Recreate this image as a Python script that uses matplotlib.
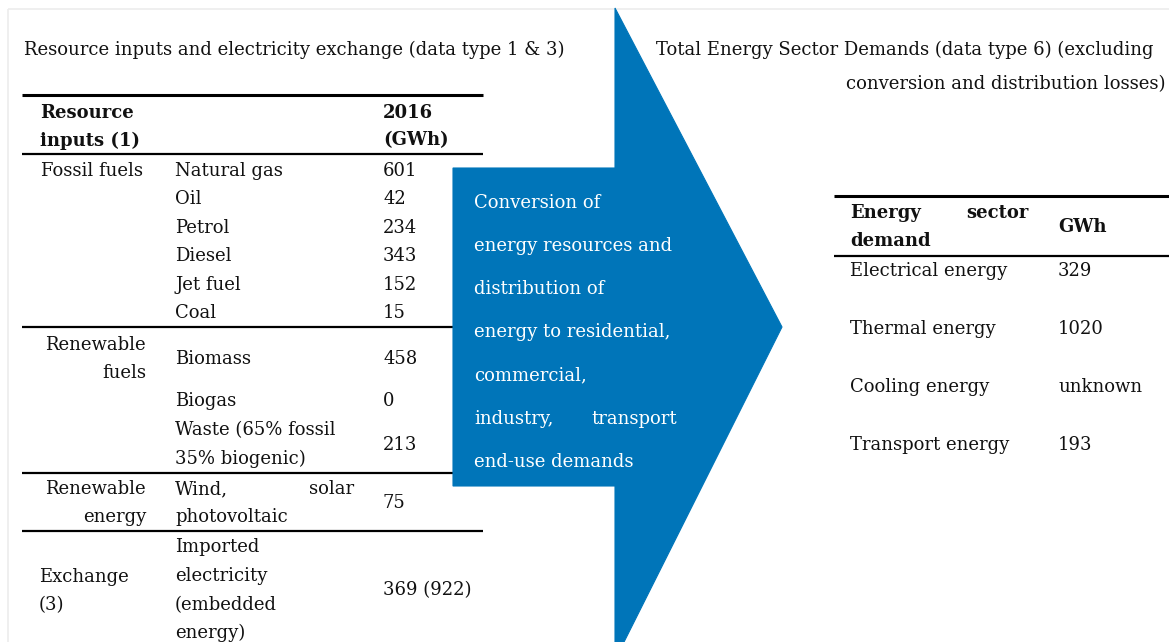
import matplotlib
matplotlib.use("Agg")
import matplotlib.pyplot as plt
from matplotlib.patches import Polygon, Rectangle

# ── data ─────────────────────────────────────────────────────────────────────
LEFT_TITLE = "Resource inputs and electricity exchange (data type 1 & 3)"
RIGHT_TITLE = ["Total Energy Sector Demands (data type 6) (excluding",
               "conversion and distribution losses)"]

fossil_items = [("Natural gas", "601"), ("Oil", "42"), ("Petrol", "234"),
                ("Diesel", "343"), ("Jet fuel", "152"), ("Coal", "15")]
renew_fuel_items = [(["Biomass"], "458"), (["Biogas"], "0"),
                    (["Waste (65% fossil", "35% biogenic)"], "213")]
renew_energy_item = (["Wind,", "solar", "photovoltaic"], "75")
exchange_item = (["Imported", "electricity", "(embedded", "energy)"], "369 (922)")

ARROW_TEXT = ["Conversion of", "energy resources and", "distribution of",
              "energy to residential,", "commercial,", ("industry,", "transport"),
              "end-use demands"]

demand_names = ["Electrical energy", "Thermal energy", "Cooling energy", "Transport energy"]
demand_gwh = ["329", "1020", "unknown", "193"]

# ── style ────────────────────────────────────────────────────────────────────
FONT = "DejaVu Serif"
FS = 13.0
BLUE = "#0075b9"
plt.rcParams["font.family"] = [FONT]

fig = plt.figure(figsize=(11.69, 6.42), dpi=100, facecolor="white")
ax = fig.add_axes([0, 0, 1, 1])
ax.set_xlim(0, 1169)
ax.set_ylim(642, 0)
ax.axis("off")


def txt(x, y, s, ha="left", weight="normal", color="#111111", **kw):
    # y = visual centre of the lowercase body; placed by baseline
    ax.text(x, y + 5.5, s, ha=ha, va="baseline", fontsize=FS, fontweight=weight,
            color=color, **kw)


def rule(y, x0, x1, lw):
    ax.plot([x0, x1], [y, y], color="black", lw=lw, solid_capstyle="butt", zorder=2)


# faint frame
ax.add_patch(Rectangle((8, 9), 1200, 700, fill=False, edgecolor="#ececec", lw=1.2, zorder=0))

# ── left table ───────────────────────────────────────────────────────────────
txt(24, 49.5, LEFT_TITLE)
rule(95, 22, 483, 2.2)
txt(40, 112, "Resource", weight="bold")
txt(40, 140, "inputs (1)", weight="bold")
txt(383, 112, "2016", weight="bold")
txt(383, 140, "(GWh)", weight="bold")
rule(154, 22, 483, 1.6)

C1, C2, C3, RALIGN = 41, 175, 383, 146
LH = 28.6

y = 170
txt(C1, y, "Fossil fuels")
for name, val in fossil_items:
    txt(C2, y, name)
    txt(C3, y, val)
    y += LH
rule(327, 22, 483, 1.6)

txt(RALIGN, 344, "Renewable", ha="right")
txt(RALIGN, 373, "fuels", ha="right")
row_y = [358, 401, 444]
for (lines, val), yc in zip(renew_fuel_items, row_y):
    n = len(lines)
    for k, line in enumerate(lines):
        txt(C2, yc + (k - (n - 1) / 2) * LH, line)
    txt(C3, yc, val)
rule(473, 22, 483, 1.6)

txt(RALIGN, 489, "Renewable", ha="right")
txt(RALIGN, 517, "energy", ha="right")
w1, w2, w3 = renew_energy_item[0]
txt(C2, 489, w1)
txt(354, 489, w2, ha="right")
txt(C2, 517, w3)
txt(C3, 503, renew_energy_item[1])
rule(531, 22, 483, 1.6)

txt(39, 576, "Exchange")
txt(39, 605, "(3)")
for k, line in enumerate(exchange_item[0]):
    txt(C2, 547 + k * LH, line)
txt(C3, 590, exchange_item[1])

# ── arrow ────────────────────────────────────────────────────────────────────
arrow = Polygon([(453, 168), (615, 168), (615, 8), (782, 327), (615, 660),
                 (615, 486), (453, 486)], closed=True, facecolor=BLUE,
                edgecolor=BLUE, lw=0.8, zorder=3)
ax.add_patch(arrow)
ay = 202
for line in ARROW_TEXT:
    if isinstance(line, tuple):
        txt(474, ay, line[0], color="white", zorder=4)
        txt(677, ay, line[1], ha="right", color="white", zorder=4)
    else:
        txt(474, ay, line, color="white", zorder=4)
    ay += 43.3

# ── right table ──────────────────────────────────────────────────────────────
txt(656, 49.5, RIGHT_TITLE[0])
txt(1166, 83.5, RIGHT_TITLE[1], ha="right")
rule(196, 834, 1169, 2.2)
txt(850, 213, "Energy", weight="bold")
txt(1029, 213, "sector", weight="bold", ha="right")
txt(850, 241, "demand", weight="bold")
txt(1058, 227, "GWh", weight="bold")
rule(256, 834, 1169, 1.6)
for k, (name, val) in enumerate(zip(demand_names, demand_gwh)):
    yy = 271 + k * 58
    txt(850, yy, name)
    txt(1058, yy, val)

fig.savefig("out.png", dpi=100, facecolor="white")
